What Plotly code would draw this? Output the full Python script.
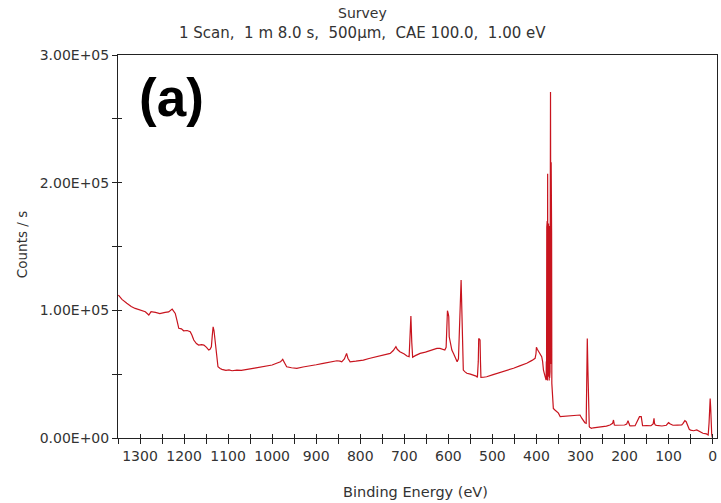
import plotly.graph_objects as go

# Binding energy (eV) and counts/s
energy = [1349, 1341, 1330, 1320, 1311, 1300, 1288, 1280, 1275, 1265, 1255, 1243, 1235, 1227, 1220,
          1216, 1212, 1206, 1201, 1193, 1186, 1182, 1178, 1172, 1167, 1160, 1155, 1149, 1144, 1141, 1138,
          1136, 1134, 1132, 1131, 1129, 1127, 1125, 1123, 1118, 1114, 1105, 1098, 1091, 1080, 1070, 1061,
          1050, 1040, 1031, 1020, 1010, 1000, 990, 981, 978, 976, 972, 967, 956, 944, 930, 914, 900,
          884, 870, 853, 846, 842, 836, 833, 831, 828, 823, 810, 793, 780, 763, 748, 732, 725, 721, 719,
          716, 710, 700, 694, 689, 687, 685, 683, 681, 675, 664, 652, 642, 634, 626, 619, 612, 608, 605,
          604, 602, 600, 599, 598, 595, 592, 588, 585, 582, 580, 577, 575, 573, 572, 571, 570, 569, 567,
          566, 562, 558, 550, 543, 537, 534, 532, 531, 529, 528, 527, 526, 520, 513, 500, 483, 470, 452,
          438, 422, 410, 403, 401, 400, 398, 393, 390, 388, 386, 384, 381, 378,
          377.5, 377, 376.5, 376, 375.5, 375, 374.5, 374, 373.5, 373, 372.5, 372, 371.5, 371, 370.5, 370,
          369.5, 369, 368.5, 368, 367.5, 367, 366.5, 366, 365.5, 365, 364, 363, 361.6, 358, 354, 350,
          346, 335, 325, 316, 308, 301, 297, 293, 290, 287, 286, 284.5, 283, 282, 281, 280, 279, 275,
          271, 260, 250, 241, 233, 227, 225, 224, 223, 221, 210, 200, 195, 192, 190, 188, 186, 176,
          166, 165.5, 165, 162, 160, 159.5, 159, 150, 140, 135, 133, 132, 130, 127, 115, 105, 100, 96,
          93, 90, 80, 70, 67, 63, 60, 56, 53, 50, 43, 36, 29, 22, 14, 10, 8, 7, 5.5, 4.4, 3.5, 2, 0.5, -1]
counts = [112000, 108600, 105500, 103000, 101500, 100500, 98900, 96300, 99000, 98400, 97500, 98400, 98800, 101000, 97600,
          92000, 85900, 85500, 84000, 84200, 83200, 80500, 76700, 74000, 72800, 73200, 72800, 71000, 68900, 69500, 71500,
          80000, 87100, 84000, 80600, 76000, 72800, 62000, 55800, 54500, 53800, 53000, 53400, 52700, 53200, 53000, 53800,
          54200, 54800, 55300, 56000, 56500, 57200, 58600, 59700, 60800, 61600, 59000, 55800, 55000, 54500, 55600, 56400, 57400,
          58500, 59200, 60500, 60200, 59700, 62000, 64500, 66300, 62500, 59700, 60200, 61000, 62300, 63700, 64800, 66300, 68500, 70600, 71500,
          69500, 67600, 65800, 64200, 63700, 75000, 95500, 75000, 63200, 64500, 66300, 67300, 68400, 68900, 70200, 70200, 69600, 68900, 71000,
          79300, 99700, 97000, 95000, 79300, 73000, 68900, 66000, 63700, 61500, 59700, 62000, 79300, 94000, 106700, 123700, 110000, 87200, 70000,
          53200, 51800, 50700, 50000, 49300, 48500, 47500, 60000, 78000, 77500, 76700, 60000, 47500, 47600, 48000, 49500, 51100, 52500, 54600,
          56500, 58500, 60800, 62400, 66000, 71000, 69500, 66800, 65300, 63700, 60000, 53200, 49000, 45400,
          60000, 46000, 165000, 60000, 170000, 45000, 207000, 48000, 160000, 50000, 168000, 46000, 162000, 45000, 166000, 47000,
          165000, 52000, 190000, 271000, 165000, 58000, 216000, 165000, 160000, 42800, 35000, 29700, 23200, 21900, 20500, 19500,
          16700, 17000, 17300, 17500, 17800, 18000, 15500, 12800, 12000, 11500, 49300, 78000, 52000, 27200, 14000, 8900, 8400,
          7600, 8000, 8300, 8900, 9300, 10200, 11500, 14100, 11500, 10200, 10000, 10100, 10200, 11000, 13600, 11500, 9600, 9500,
          9600, 16700, 16700, 16700, 16700, 12000, 9600, 9600, 9700, 9600, 11000, 15400, 11500, 10200, 9900, 9400, 10000, 12000,
          11000, 10200, 10000, 10100, 10200, 11500, 13600, 12800, 9500, 6800, 6200, 5700, 6300, 5200, 3700, 3200, 2300, 12000, 21900, 31000, 24000, 14000, 3000, 200]

x_major = list(range(0, 1301, 100))
x_labels = [str(v) for v in x_major]
y_major = [0, 100000, 200000, 300000]
y_labels = ["0.00E+00", "1.00E+05", "2.00E+05", "3.00E+05"]

FONT = "DejaVu Sans, Verdana, sans-serif"
TXT = "#333333"
AXC = "#222222"

fig = go.Figure()
fig.add_trace(go.Scatter(x=energy, y=counts, mode="lines",
                         line=dict(color="#c8141e", width=1.2), showlegend=False, hoverinfo="skip"))
# empty trace to create overlay axes for crossing ticks
fig.add_trace(go.Scatter(x=[None], y=[None], xaxis="x2", yaxis="y2", showlegend=False, hoverinfo="skip"))

xcommon = dict(range=[1350, -10], tickmode="array", tickvals=x_major, showgrid=False, zeroline=False)
ycommon = dict(range=[0, 300000], tickmode="array", tickvals=y_major, showgrid=False, zeroline=False)

fig.update_layout(
    width=721, height=503,
    margin=dict(l=118, r=4, t=55, b=65, autoexpand=False),
    paper_bgcolor="white", plot_bgcolor="white",
    font=dict(family=FONT, size=14, color=TXT),
    hovermode=False,
    xaxis=dict(**xcommon, ticktext=x_labels, ticks="outside", ticklen=5, tickcolor=AXC, tickwidth=1,
               minor=dict(dtick=50, tick0=0, ticks="outside", ticklen=5, tickcolor=AXC),
               showline=True, linecolor=AXC, linewidth=1, mirror=True, automargin=False,
               tickfont=dict(family=FONT, size=14, color=TXT)),
    yaxis=dict(**ycommon, ticktext=y_labels, ticks="outside", ticklen=5, tickcolor=AXC, tickwidth=1,
               minor=dict(dtick=50000, tick0=0, ticks="outside", ticklen=5, tickcolor=AXC),
               showline=True, linecolor=AXC, linewidth=1, mirror=True, automargin=False,
               tickfont=dict(family=FONT, size=14, color=TXT)),
    xaxis2=dict(**xcommon, overlaying="x", anchor="y2", side="bottom", showticklabels=False,
                ticks="inside", ticklen=4, tickcolor=AXC,
                minor=dict(dtick=50, tick0=0, ticks="inside", ticklen=4, tickcolor=AXC), showline=False),
    yaxis2=dict(**ycommon, overlaying="y", anchor="x2", side="left", showticklabels=False,
                ticks="inside", ticklen=4, tickcolor=AXC,
                minor=dict(dtick=50000, tick0=0, ticks="inside", ticklen=4, tickcolor=AXC), showline=False),
)

fig.add_annotation(text="Survey", xref="paper", yref="paper", x=0.409, y=1.110,
                   showarrow=False, font=dict(family=FONT, size=14, color=TXT), xanchor="center", yanchor="middle")
fig.add_annotation(text="1 Scan,\u00a0 1 m 8.0 s,\u00a0 500µm,\u00a0 CAE 100.0,\u00a0 1.00 eV",
                   xref="paper", yref="paper", x=0.409, y=1.058,
                   showarrow=False, font=dict(family=FONT, size=15, color=TXT), xanchor="center", yanchor="middle")
fig.add_annotation(text="Counts / s", xref="paper", yref="paper", x=-0.160, y=0.504, textangle=-90,
                   showarrow=False, font=dict(family=FONT, size=13.5, color=TXT), xanchor="center", yanchor="middle")
fig.add_annotation(text="Binding Energy (eV)", xref="paper", yref="paper", x=0.496, y=-0.141,
                   showarrow=False, font=dict(family=FONT, size=14.5, color=TXT), xanchor="center", yanchor="middle")
fig.add_annotation(text="<b>(a)</b>", xref="paper", yref="paper", x=0.09, y=0.89,
                   showarrow=False, font=dict(family="Liberation Sans, Arial, sans-serif", size=53, color="#000000"),
                   xanchor="center", yanchor="middle")

# remove the default page margin so the figure fills the window exactly
fig.write_html("out.html", config={"displayModeBar": False},
               post_script="document.body.style.margin='0px';document.body.style.overflow='hidden';")
